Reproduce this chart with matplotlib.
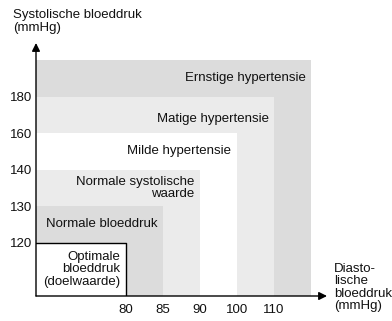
import matplotlib
matplotlib.use("Agg")
import matplotlib.pyplot as plt
from matplotlib.patches import Rectangle

plt.rcParams['font.family'] = ['Liberation Sans', 'DejaVu Sans']

# Blood pressure classes, from the innermost box outwards
categories = [
    "Optimale\nbloeddruk\n(doelwaarde)",
    "Normale bloeddruk",
    "Normale systolische\nwaarde",
    "Milde hypertensie",
    "Matige hypertensie",
    "Ernstige hypertensie",
]
diastolic_ticks = [80, 85, 90, 100, 110]
systolic_ticks = [120, 130, 140, 160, 180]
box_colors = ["#ffffff", "#dcdcdc", "#ebebeb", "#ffffff", "#ebebeb", "#dcdcdc"]

x_label = "Diasto-\nlische\nbloeddruk\n(mmHg)"
y_label = "Systolische bloeddruk\n(mmHg)"

FS = 9.5
TXT = "#111111"

# thresholds are drawn on an ordinal scale: one step per class boundary
x_origin, y_origin = -2.43, -1.46
x_pos = list(range(len(diastolic_ticks))) + [len(diastolic_ticks)]
y_pos = list(range(len(systolic_ticks))) + [len(systolic_ticks)]

fig = plt.figure(figsize=(3.92, 3.21), dpi=100)
ax = fig.add_axes([36 / 392, 25 / 321, 291 / 392, 253 / 321])
ax.set_xlim(x_origin, 5.43)
ax.set_ylim(y_origin, 5.47)
for s in ax.spines.values():
    s.set_visible(False)

# nested boxes, outermost first
for i in reversed(range(len(categories))):
    ax.add_patch(Rectangle((x_origin, y_origin), x_pos[i] - x_origin, y_pos[i] - y_origin,
                           facecolor=box_colors[i], edgecolor="none", zorder=1))

# black border around the optimal box
ax.plot([x_origin, x_pos[0], x_pos[0]], [y_pos[0], y_pos[0], y_origin],
        color="black", lw=1.0, zorder=3)

# class labels, right aligned inside each box
for i, name in enumerate(categories):
    y_low = y_origin if i == 0 else y_pos[i - 1]
    y_mid = (y_low + y_pos[i]) / 2
    if i == 4:
        y_mid -= 0.12
    ax.text(x_pos[i] - 0.15, y_mid, name, ha="right", va="center",
            fontsize=FS, color=TXT, linespacing=1.03, zorder=4)

# axes with arrow heads
ax.annotate("", xy=(5.43, y_origin), xytext=(x_origin, y_origin),
            arrowprops=dict(arrowstyle="-|>", color="black", lw=1.0,
                            mutation_scale=12, shrinkA=0, shrinkB=0), zorder=5)
ax.annotate("", xy=(x_origin, 5.47), xytext=(x_origin, y_origin),
            arrowprops=dict(arrowstyle="-|>", color="black", lw=1.0,
                            mutation_scale=12, shrinkA=0, shrinkB=0), zorder=5)

ax.set_xticks(x_pos[:len(diastolic_ticks)])
ax.set_xticklabels([str(v) for v in diastolic_ticks])
ax.set_yticks(y_pos[:len(systolic_ticks)])
ax.set_yticklabels([str(v) for v in systolic_ticks])
ax.tick_params(length=0, labelsize=FS, pad=3, colors=TXT)
ax.tick_params(axis="x", pad=6)

fig.text(13 / 392, 1 - 9 / 321, y_label, ha="left", va="top", fontsize=FS,
         color=TXT, linespacing=1.08)
fig.text(334 / 392, 1 - 263 / 321, x_label, ha="left", va="top", fontsize=FS,
         color=TXT, linespacing=1.05)

fig.savefig("out.png", dpi=100)
